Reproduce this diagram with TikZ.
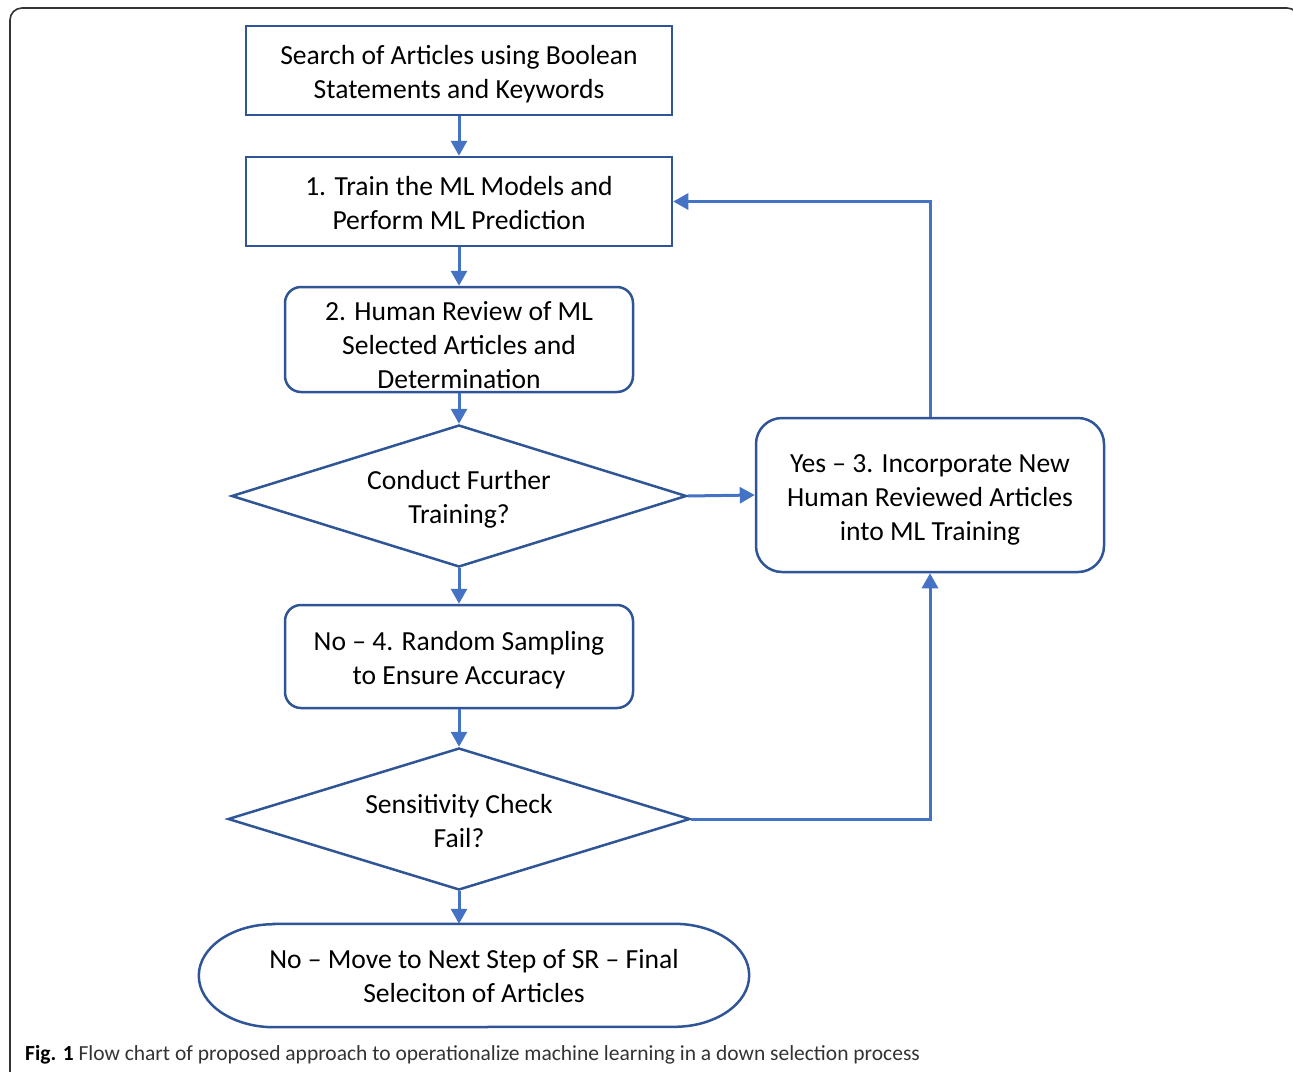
\documentclass[tikz,border=0pt]{standalone}
\usepackage{fontspec}
\setmainfont{Carlito}
\usetikzlibrary{shapes.geometric,arrows.meta}
\definecolor{boxblue}{HTML}{2F5597}
\definecolor{linkblue}{HTML}{4472C4}
\definecolor{framegray}{HTML}{333333}
\newcommand\dn[1]{\rule{0pt}{#1pt}}
\tikzset{
  txt/.style={font=\fontsize{27.6}{34}\selectfont, align=center, text=black},
  sqbox/.style={txt, draw=boxblue, line width=2.5pt, rectangle, inner sep=0pt},
  rdbox/.style={sqbox, rounded corners=16pt},
  dec/.style={txt, draw=boxblue, line width=2.5pt, diamond, inner sep=0pt, aspect=3.2},
  link/.style={draw=linkblue, line width=3pt, -{Triangle[length=15pt,width=16pt]}},
}
\begin{document}
\begin{tikzpicture}[x=1pt,y=-1pt]
\useasboundingbox (0,0) rectangle (1293,1071);
% outer frame (partly outside the page, as in the reference)
\begin{scope}
\clip (0,0) rectangle (1293,1071);
\draw[framegray, line width=1.6pt, rounded corners=12pt] (10,8) rectangle (1299,1090);
\end{scope}

\node[sqbox, minimum width=426pt, minimum height=89pt] (b1) at (459,70.5)
  {\dn{27}Search of Articles using Boolean\\Statements and Keywords};
\node[sqbox, minimum width=426pt, minimum height=89pt] (b2) at (459,201.5)
  {\dn{23}1. Train the ML Models and\\Perform ML Prediction};
\node[rdbox, minimum width=348pt, minimum height=105pt] (b3) at (459,339.5)
  {\dn{31}2. Human Review of ML\\Selected Articles and\\Determination};
\node[dec, minimum width=455pt, minimum height=142pt] (d1) at (459,496)
  {\dn{25}Conduct Further\\Training?};
\node[rdbox, rounded corners=26pt, minimum width=348pt, minimum height=154pt] (yes) at (930,495)
  {\dn{27}Yes -- 3. Incorporate New\\Human Reviewed Articles\\into ML Training};
\node[rdbox, minimum width=348pt, minimum height=103pt] (b4) at (459,656.5)
  {\dn{27}No -- 4. Random Sampling\\to Ensure Accuracy};
\node[dec, minimum width=462pt, minimum height=142pt] (d2) at (459,819)
  {\dn{23}Sensitivity Check\\Fail?};
\node[txt, minimum width=550pt, minimum height=103pt, inner sep=0pt] (fin) at (474,975.5)
  {\dn{21}No -- Move to Next Step of SR -- Final\\Seleciton of Articles};
\draw[boxblue, line width=2.5pt]
  ([xshift=75pt]fin.north west) -- ([xshift=-75pt]fin.north east)
  arc[start angle=90, end angle=-90, x radius=75pt, y radius=51.5pt]
  -- ([xshift=75pt]fin.south west)
  arc[start angle=270, end angle=90, x radius=75pt, y radius=51.5pt] -- cycle;

\draw[link] (b1.south) -- (b2.north);
\draw[link] (b2.south) -- (b3.north);
\draw[link] (b3.south) -- (d1.north);
\draw[link] (d1.east) -- (yes.west);
\draw[link] (d1.south) -- (b4.north);
\draw[link] (b4.south) -- (d2.north);
\draw[link] (d2.south) -- (d2.south |- fin.north);
\draw[link] (d2.east) -| (yes.south);
\draw[link] (yes.north) |- (b2.east);

\node[anchor=west, inner sep=0pt, font=\fontsize{21.5}{26}\selectfont, text=framegray] (cap) at (25,1055)
  {\textcolor{black}{\textbf{Fig. 1}} Flow chart of proposed approach to operationalize machine learning in a down selection process};
\end{tikzpicture}
\end{document}
